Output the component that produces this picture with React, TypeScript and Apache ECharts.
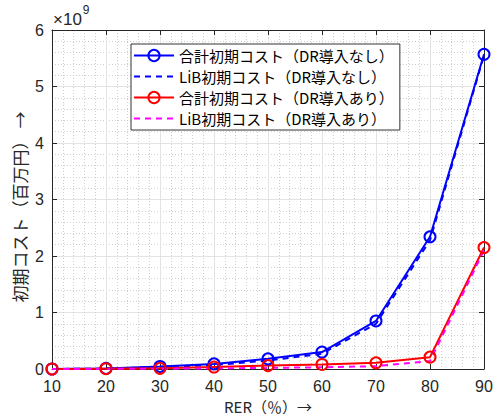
import React, { useEffect, useRef } from "react";
import * as echarts from "echarts";

const rer = [10, 20, 30, 40, 50, 60, 70, 80, 90];
const totalNoDR = [0.0, 0.01, 0.045, 0.09, 0.18, 0.3, 0.85, 2.34, 5.57];
const libNoDR = [0.0, 0.008, 0.035, 0.07, 0.15, 0.27, 0.8, 2.28, 5.55];
const totalDR = [0.0, 0.005, 0.012, 0.035, 0.06, 0.08, 0.11, 0.21, 2.15];
const libDR = [0.0, 0.002, 0.005, 0.01, 0.02, 0.03, 0.05, 0.14, 2.1];
const seriesNames = [
  "合計初期コスト（DR導入なし）",
  "LiB初期コスト（DR導入なし）",
  "合計初期コスト（DR導入あり）",
  "LiB初期コスト（DR導入あり）",
];
const yTicksMax = 6;
const yTitle = "初期コスト（百万円） →";
const xTitle = "RER（％）→";

const SCALE = 1e9;
const FONT = "'Noto Sans CJK JP', 'Noto Sans', sans-serif";
const NUMFONT = "'Liberation Sans', sans-serif";
const AX = "#262626";

function pairs(vals: number[]) {
  return rer.map((x, i) => [x, vals[i] * SCALE]);
}

export default function App() {
  const ref = useRef<HTMLDivElement>(null);
  useEffect(() => {
    if (!ref.current) return;
    const chart = echarts.init(ref.current, null, { renderer: "svg" });
    const lineSeries = (
      name: string,
      vals: number[],
      color: string,
      dashed: boolean,
      marker: boolean
    ) => ({
      name,
      type: "line",
      data: pairs(vals),
      symbol: marker ? "circle" : "none",
      symbolSize: 11,
      showSymbol: marker,
      lineStyle: { color, width: 2, type: dashed ? [6, 5] : "solid" },
      itemStyle: { color: "rgba(255,255,255,0)", borderColor: color, borderWidth: 2 },
      emphasis: { disabled: true },
      z: 3,
    });
    const commonX = {
      type: "value",
      min: 10,
      max: 90,
      interval: 10,
    };
    const commonY = {
      type: "value",
      min: 0,
      max: yTicksMax * SCALE,
      interval: SCALE,
    };
    const minorLine = { show: true, lineStyle: { color: "#cfcfcf", width: 1, type: [1, 2] } };
    chart.setOption({
      animation: false,
      textStyle: { fontFamily: FONT },
      grid: {
        left: 52,
        right: 13,
        top: 30,
        bottom: 49,
        containLabel: false,
        outerBoundsMode: "none",
      },
      graphic: [
        {
          type: "text",
          left: 53,
          top: 4,
          style: {
            text: "{a|×10}{b|9}",
            rich: {
              a: { fontSize: 17, fill: AX, fontFamily: NUMFONT, padding: [7, 0, 0, 0] },
              b: { fontSize: 12, fill: AX, fontFamily: NUMFONT, verticalAlign: "top", padding: [0, 0, 10, 1] },
            },
          },
        },
        {
          type: "text",
          x: 19,
          y: 207,
          rotation: Math.PI / 2,
          style: {
            text: yTitle,
            fontSize: 17,
            fill: AX,
            fontFamily: FONT,
            align: "center",
            verticalAlign: "middle",
          },
        },
      ],
      legend: {
        orient: "vertical",
        left: 131,
        top: 44,
        width: 275,
        padding: [4, 6, 4, 2],
        itemWidth: 40,
        itemHeight: 14,
        itemGap: 6,
        backgroundColor: "#fff",
        borderColor: "#333",
        borderWidth: 1,
        borderRadius: 0,
        textStyle: { fontSize: 15, color: "#000", fontFamily: FONT },
        data: [
          { name: seriesNames[0] },
          { name: seriesNames[1], itemStyle: { opacity: 0 } },
          { name: seriesNames[2] },
          { name: seriesNames[3], itemStyle: { opacity: 0 } },
        ],
      },
      xAxis: [
        {
          ...commonX,
          position: "bottom",
          name: xTitle,
          nameLocation: "middle",
          nameGap: 30,
          nameTextStyle: { fontSize: 15, color: AX, fontFamily: FONT },
          axisLine: { show: true, onZero: false, lineStyle: { color: AX, width: 1 } },
          axisTick: { show: true, inside: true, length: 5, lineStyle: { color: AX } },
          axisLabel: { fontSize: 16, color: AX, margin: 9, fontFamily: NUMFONT },
          splitLine: { show: true, lineStyle: { color: "#e3e3e3", width: 1 } },
          minorTick: { show: false, splitNumber: 5 },
          minorSplitLine: minorLine,
        },
        {
          ...commonX,
          position: "top",
          axisLine: { show: true, onZero: false, lineStyle: { color: AX, width: 1 } },
          axisTick: { show: true, inside: true, length: 5, lineStyle: { color: AX } },
          axisLabel: { show: false },
          splitLine: { show: false },
        },
      ],
      yAxis: [
        {
          ...commonY,
          position: "left",
          axisLine: { show: true, onZero: false, lineStyle: { color: AX, width: 1 } },
          axisTick: { show: true, inside: true, length: 5, lineStyle: { color: AX } },
          axisLabel: {
            fontSize: 16,
            color: AX,
            margin: 8,
            fontFamily: NUMFONT,
            formatter: (v: number) => String(Math.round(v / SCALE)),
          },
          splitLine: { show: true, lineStyle: { color: "#e3e3e3", width: 1 } },
          minorTick: { show: false, splitNumber: 5 },
          minorSplitLine: minorLine,
        },
        {
          ...commonY,
          position: "right",
          axisLine: { show: true, onZero: false, lineStyle: { color: AX, width: 1 } },
          axisTick: { show: true, inside: true, length: 5, lineStyle: { color: AX } },
          axisLabel: { show: false },
          splitLine: { show: false },
        },
      ],
      series: [
        lineSeries(seriesNames[0], totalNoDR, "#0000ff", false, true),
        lineSeries(seriesNames[1], libNoDR, "#0000ff", true, false),
        lineSeries(seriesNames[2], totalDR, "#ff0000", false, true),
        lineSeries(seriesNames[3], libDR, "#ff00ff", true, false),
      ],
    });
    return () => chart.dispose();
  }, []);
  return <div ref={ref} style={{ width: 497, height: 418, position: "absolute", left: 0, top: 0 }} />;
}
